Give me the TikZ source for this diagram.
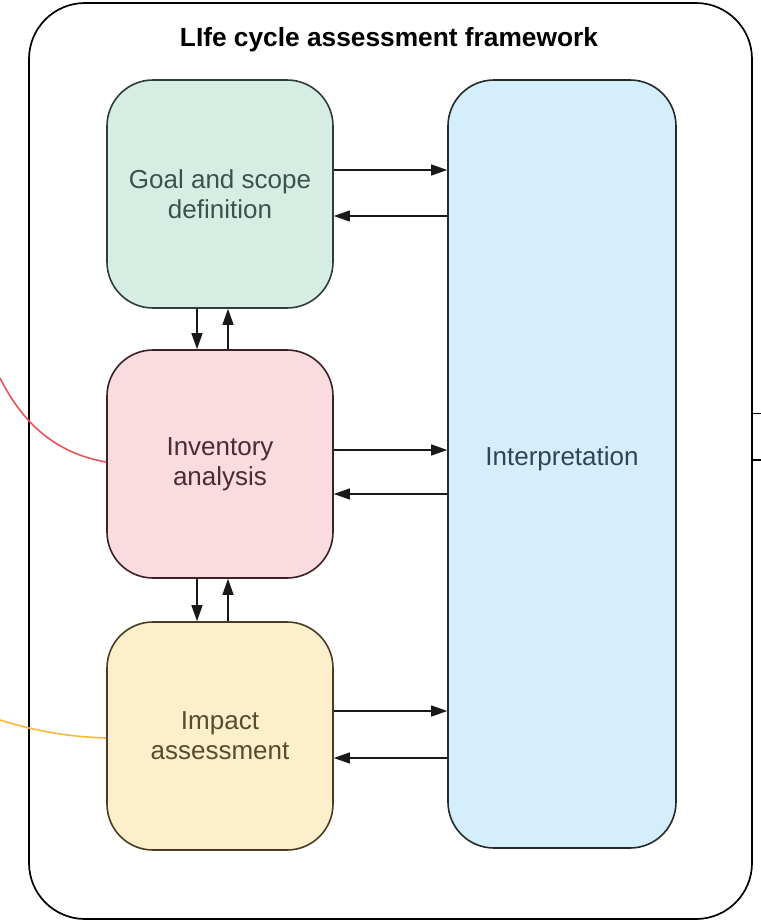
\documentclass[tikz,border=0pt]{standalone}
\usepackage{fontspec}
\setmainfont{Liberation Sans}
\usetikzlibrary{arrows.meta}

\definecolor{goalfill}{HTML}{D5EDE3}
\definecolor{goalline}{HTML}{2E3D37}
\definecolor{goaltext}{HTML}{3C524A}
\definecolor{invfill}{HTML}{FADBDF}
\definecolor{invline}{HTML}{3A2227}
\definecolor{invtext}{HTML}{4A2C32}
\definecolor{impfill}{HTML}{FDEFCB}
\definecolor{impline}{HTML}{4A3E22}
\definecolor{imptext}{HTML}{5A4B2C}
\definecolor{intfill}{HTML}{D5EEFB}
\definecolor{intline}{HTML}{252A2D}
\definecolor{inttext}{HTML}{2C4652}
\definecolor{linkred}{HTML}{E8535B}
\definecolor{linkyellow}{HTML}{F6BA3C}

\tikzset{
  stage/.style={draw, line width=1.6pt, rounded corners=46pt,
    minimum width=226pt, minimum height=228pt, align=center,
    font=\fontsize{26}{30}\selectfont, inner sep=0pt},
  flow/.style={line width=1.3pt, draw=black!90,
    -{Triangle[length=16pt,width=11pt]}},
}

\begin{document}
\begin{tikzpicture}[x=1pt,y=-1pt]
\useasboundingbox (0,0) rectangle (761,922);

% outer frame and title
\node[draw, line width=1.7pt, rounded corners=56pt, minimum width=723pt,
      minimum height=916pt, inner sep=0pt] (frame) at (390.5,461) {};
\node[font=\fontsize{26.3}{28}\selectfont\bfseries] (title) at (389,40)
      {LIfe cycle assessment framework};

% stages
\node[stage, fill=goalfill, draw=goalline, text=goaltext] (goal) at (220,194)
      {Goal and scope\\definition};
\node[stage, fill=invfill, draw=invline, text=invtext] (inv) at (220,464)
      {Inventory\\analysis};
\node[stage, fill=impfill, draw=impline, text=imptext] (imp) at (220,736)
      {Impact\\assessment};
\node[stage, fill=intfill, draw=intline, text=inttext, minimum width=228pt,
      minimum height=768pt] (interp) at (562,464) {};
\node[font=\fontsize{26}{30}\selectfont, text=inttext] (interplabel)
      at (562,459) {Interpretation};

% reference levels for the connectors
\coordinate (g1) at (0,170);
\coordinate (g2) at (0,216);
\coordinate (i1) at (0,450);
\coordinate (i2) at (0,494);
\coordinate (m1) at (0,711);
\coordinate (m2) at (0,758);
\coordinate (xdown) at (197,0);
\coordinate (xup) at (228,0);

% stage <-> interpretation
\draw[flow] (goal.east |- g1) -- (interp.west |- g1);
\draw[flow] (interp.west |- g2) -- (goal.east |- g2);
\draw[flow] (inv.east |- i1) -- (interp.west |- i1);
\draw[flow] (interp.west |- i2) -- (inv.east |- i2);
\draw[flow] (imp.east |- m1) -- (interp.west |- m1);
\draw[flow] (interp.west |- m2) -- (imp.east |- m2);

% stage <-> stage
\draw[flow] (goal.south -| xdown) -- (inv.north -| xdown);
\draw[flow] (inv.north -| xup) -- (goal.south -| xup);
\draw[flow] (inv.south -| xdown) -- (imp.north -| xdown);
\draw[flow] (imp.north -| xup) -- (inv.south -| xup);

% links leaving the picture
\coordinate (redstart) at (0,378);
\coordinate (yellowstart) at (0,720);
\coordinate (redend) at (0,462);
\coordinate (yellowend) at (0,738);
\draw[linkred, line width=1.6pt] (redstart)
      .. controls (25,428) and (60,454) .. (inv.west |- redend);
\draw[linkyellow, line width=1.6pt] (yellowstart)
      .. controls (35,731) and (70,737) .. (imp.west |- yellowend);

\coordinate (t1) at (761,413);
\coordinate (t2) at (761,460);
\draw[line width=0.8pt] (frame.east |- t1) -- (t1);
\draw[line width=1.3pt] (frame.east |- t2) -- (t2);
\end{tikzpicture}
\end{document}
